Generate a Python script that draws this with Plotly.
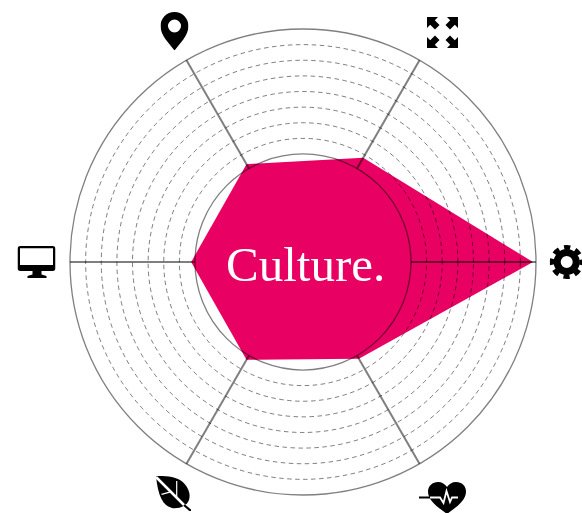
import base64
import plotly.graph_objects as go

# ---- data (outer ring = 100) ----
categories = ["Settings", "Scale", "Location", "Screen", "Nature", "Health"]
angles = [0, 60, 120, 180, 240, 300]
values = [98.7, 51.7, 48.5, 48.0, 48.5, 48.0]
ring_values = [53.05, 59.76, 66.46, 73.17, 79.87, 86.58, 93.29]
inner_radius = 46.35
title = "Culture."

W, H = 582, 513
CX, CY, R = 303, 262, 233
PINK = "#E80062"
GRID = "rgba(0,0,0,0.5)"

dom_x = [(CX - R) / W, (CX + R) / W]
dom_y = [(H - CY - R) / H, (H - CY + R) / H]

fig = go.Figure()
fig.add_trace(go.Scatterpolar(
    r=values + values[:1], theta=angles + angles[:1], mode="lines",
    fill="toself", fillcolor=PINK, line=dict(width=0, color=PINK),
    hoverinfo="skip", subplot="polar", showlegend=False))
fig.add_trace(go.Scatterpolar(
    r=[100], theta=[0], mode="markers", marker=dict(size=1, opacity=0),
    hoverinfo="skip", subplot="polar2", showlegend=False))


def svg(body, vb):
    s = f'<svg xmlns="http://www.w3.org/2000/svg" viewBox="{vb}" preserveAspectRatio="none">{body}</svg>'
    return "data:image/svg+xml;base64," + base64.b64encode(s.encode()).decode()


PIN = ('<path fill-rule="evenodd" d="M14 0C6.300 0 0 6.200 0 14c0 5 2.400 9.200 5 13.300L14 38.500l9-11.200'
       'c2.600-4.100 5-8.300 5-13.300C28 6.200 21.700 0 14 0zM14 7.500a6.500 6.500 0 1 1 0 13a6.500 6.500 0 0 1 0-13z"/>')
EXPAND = ('<path d="M0 0h11L7.800 3.200 12.500 8 8 12.500 3.200 7.800 0 11z"/>'
          '<path d="M31 0H20l3.200 3.200L18.500 8 23 12.500l4.800-4.700L31 11z"/>'
          '<path d="M0 31H11L7.800 27.800 12.500 23 8 18.500 3.200 23.200 0 20z"/>'
          '<path d="M31 31H20l3.200-3.200L18.500 23 23 18.500l4.800 4.700L31 20z"/>')
GEAR = ('<circle cx="17" cy="17" r="9.500" fill="none" stroke="#000" stroke-width="7"/>'
        '<circle cx="17" cy="17" r="14.800" fill="none" stroke="#000" stroke-width="4.400" '
        'stroke-dasharray="6.300 5.324" stroke-dashoffset="3.150"/>')
MONITOR = ('<path fill-rule="evenodd" d="M3 0h32a3 3 0 0 1 3 3v19a3 3 0 0 1-3 3H24v3.500l5 1.500v2H10v-2'
           'l5-1.500V25H3a3 3 0 0 1-3-3V3a3 3 0 0 1 3-3zM2.500 2.300V19H35.500V2.300z"/>')
LEAF = ('<path d="M1 0C10 0 18 0 25 4C33 9 36 18 34 24C32 30 24 33 17 32C8 30 3 20 1 0z"/>'
        '<path d="M1 1L30 30" stroke="#fff" stroke-width="2.500" fill="none"/>'
        '<path d="M29 29L36 35" stroke="#000" stroke-width="2.200" fill="none"/>'
        '<path d="M6.500 18.300L16.700 15.700M21.700 5V21" stroke="#fff" stroke-width="1.200" fill="none"/>')
HEART = ('<path d="M28 32C19 25 9 19 9 9.500C9 4 13.500 0 19 0C23 0 26 2 28 5C30 2 33 0 37 0'
         'C43 0 47 4 47 9.500C47 19 37 25 28 32z"/>'
         '<path d="M0 15.500H14" stroke="#000" stroke-width="2" fill="none"/>'
         '<path d="M11 15.500H21L24.500 21L27.500 9L31 20L33 15.500H39" stroke="#fff" stroke-width="1.800" fill="none"/>')

# icon placement in pixels: (body, viewBox, left, top, width, height)
icons = [
    (PIN, "0 0 28 38.500", 160.500, 12, 28, 38.500),
    (EXPAND, "0 0 31 31", 427, 17, 31, 31),
    (GEAR, "0 0 34 34", 549.700, 245, 34, 34),
    (MONITOR, "0 0 38 32", 17.500, 246, 38, 32),
    (LEAF, "0 0 36 35", 155, 476, 36, 35),
    (HEART, "0 0 47 32", 419, 482, 47, 32),
]
images = [dict(source=svg(b, vb), xref="paper", yref="paper", x=l / W, y=1 - t / H,
               sizex=w / W, sizey=h / H, xanchor="left", yanchor="top",
               sizing="stretch", layer="above")
          for b, vb, l, t, w, h in icons]

fig.update_layout(
    width=W, height=H, margin=dict(l=0, r=0, t=0, b=0), autosize=False,
    paper_bgcolor="white", showlegend=False, images=images,
    polar=dict(
        domain=dict(x=dom_x, y=dom_y), bgcolor="white",
        radialaxis=dict(range=[inner_radius and 0, 100], visible=False),
        angularaxis=dict(visible=False, direction="counterclockwise", rotation=0),
    ),
    polar2=dict(
        domain=dict(x=dom_x, y=dom_y), bgcolor="rgba(0,0,0,0)",
        hole=inner_radius / 100,
        radialaxis=dict(range=[inner_radius, 100], tickvals=ring_values, showline=False,
                        showticklabels=False, ticks="", showgrid=True, gridcolor=GRID,
                        griddash="4.500px,3.500px", gridwidth=1.200),
        angularaxis=dict(direction="counterclockwise", rotation=0, tickmode="array",
                         tickvals=angles, showticklabels=False, ticks="", showgrid=True,
                         gridcolor=GRID, gridwidth=1.500, griddash="solid",
                         showline=True, linecolor=GRID, linewidth=1.300),
    ),
    annotations=[dict(text=title, xref="paper", yref="paper", x=305 / W, y=1 - 264 / H,
                      xanchor="center", yanchor="middle", showarrow=False,
                      font=dict(family="Liberation Serif", size=49, color="white"))],
)

fig.write_html("out.html", config=dict(displayModeBar=False),
               post_script="document.body.style.margin='0';document.body.style.overflow='hidden';")
